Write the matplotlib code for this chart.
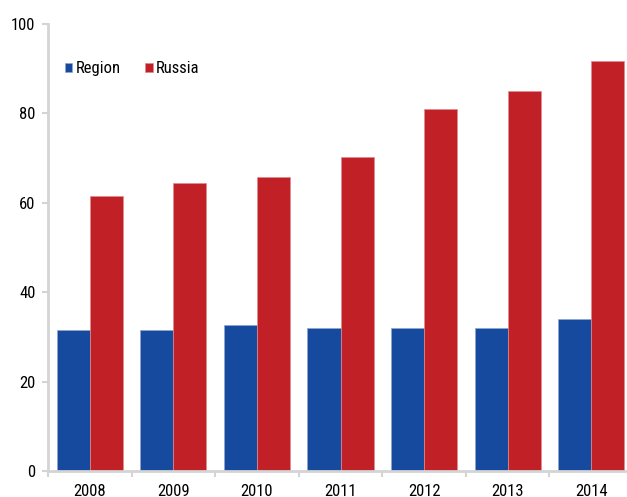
import matplotlib
matplotlib.use("Agg")
import matplotlib.pyplot as plt
import numpy as np

years = ["2008", "2009", "2010", "2011", "2012", "2013", "2014"]
region = [31.5, 31.5, 32.6, 32.0, 32.0, 32.0, 34.0]
russia = [61.5, 64.4, 65.8, 70.3, 81.0, 85.0, 91.8]
yticks = [0, 20, 40, 60, 80, 100]

plt.rcParams['font.family'] = ['Roboto Condensed', 'DejaVu Sans']

blue = "#164A9E"
red = "#C02026"
grey = "#D4D4D4"
fs = 12

fig = plt.figure(figsize=(6.27, 4.97), dpi=100)
ax = fig.add_axes([48/627, 26/497, 585/627, 447/497])

x = np.arange(len(years))
w = 0.395
ax.bar(x - w/2, region, w, color=blue, edgecolor="#8FA6CF", linewidth=0.5, label="Region")
ax.bar(x + w/2, russia, w, color=red, edgecolor="#E08A8E", linewidth=0.5, label="Russia")

ax.set_xlim(-0.5, len(years) - 0.5)
ax.set_ylim(0, 100)
ax.set_yticks(yticks)
ax.set_yticklabels([str(v) for v in yticks], fontsize=fs)
ax.set_xticks(x)
ax.set_xticklabels(years, fontsize=fs)
ax.set_xticks(np.arange(len(years) + 1) - 0.5, minor=True)
ax.tick_params(axis='x', which='major', length=0, pad=9)
ax.tick_params(axis='x', which='minor', length=4, color=grey, width=1.5, direction='out')
ax.tick_params(axis='y', length=4, color=grey, width=1.5, direction='out', pad=5)

for s in ['top', 'right']:
    ax.spines[s].set_visible(False)
for s in ['left', 'bottom']:
    ax.spines[s].set_color(grey)
    ax.spines[s].set_linewidth(2)

leg = ax.legend(loc='center left', bbox_to_anchor=(0.029, 0.9), ncol=2, frameon=False,
                fontsize=fs, handlelength=0.45, handleheight=0.45, handletextpad=0.2,
                columnspacing=1.45, borderpad=0, borderaxespad=0)

fig.savefig("out.png", dpi=100)
